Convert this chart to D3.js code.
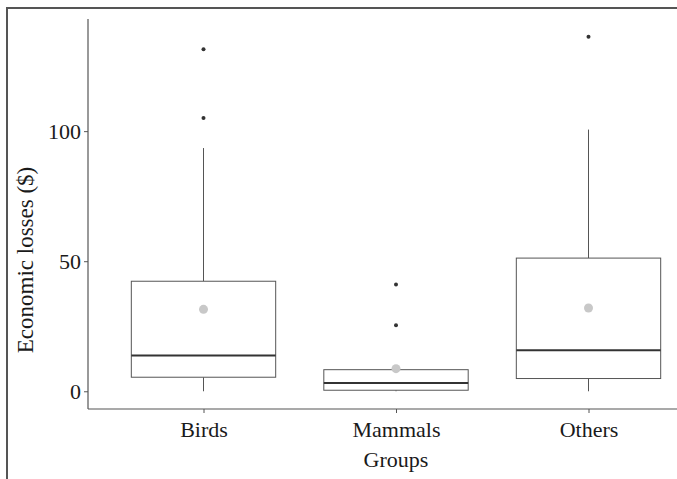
<!DOCTYPE html>
<html>
<head>
<meta charset="utf-8">
<script src="https://cdn.jsdelivr.net/npm/d3@7"></script>
<style>
  html, body { margin: 0; padding: 0; background: #fff; }
  svg { display: block; }
  text { font-family: "Liberation Serif", "Times New Roman", serif; }
</style>
</head>
<body>
<svg id="chart" width="677" height="479"></svg>
<script>
// Economic losses by animal group: box summaries, outliers and means
const groups = ["Birds", "Mammals", "Others"];
const lowerWhisker = [0, 0, 0];
const q1 = [5.4, 0.4, 4.9];
const median = [13.8, 3.2, 15.8];
const q3 = [42.3, 8.3, 51.2];
const upperWhisker = [93.5, 8.3, 100.6];
const means = [31.5, 8.7, 32.0];
const outliers = [[105.1, 131.5], [25.4, 41.0], [136.3]];
const yTicks = [0, 50, 100];

const svg = d3.select("#chart");

// outer frame (extends beyond the visible window on right and bottom)
svg.append("rect")
  .attr("x", 7).attr("y", 8)
  .attr("width", 800).attr("height", 600)
  .attr("fill", "none")
  .attr("stroke", "#555")
  .attr("stroke-width", 2);

const panel = { left: 88, right: 704, top: 19, bottom: 409 };

const dataMax = d3.max(outliers.flat().concat(upperWhisker));
const dataMin = d3.min(lowerWhisker);
const pad = (dataMax - dataMin) * 0.05;

const y = d3.scaleLinear()
  .domain([dataMin - pad, dataMax + pad])
  .range([panel.bottom, panel.top]);

// discrete positions with 0.6 of a step on each side
const x = d3.scalePoint()
  .domain(groups)
  .range([panel.left, panel.right])
  .padding(0.6);

const bw = x.step() * 0.75;

// axes
const yAxis = d3.axisLeft(y).tickValues(yTicks).tickSize(4).tickPadding(3);
const xAxis = d3.axisBottom(x).tickSize(4).tickPadding(3);

const gy = svg.append("g")
  .attr("transform", `translate(${panel.left},0)`)
  .call(yAxis);
gy.select(".domain").attr("d", `M0,${panel.top}V${panel.bottom}`);

const gx = svg.append("g")
  .attr("transform", `translate(0,${panel.bottom})`)
  .call(xAxis);
gx.select(".domain").attr("d", `M${panel.left},0H${panel.right}`);

[gx, gy].forEach(g => {
  g.selectAll(".domain").attr("stroke", "#555").attr("stroke-width", 1.2);
  g.selectAll(".tick line").attr("stroke", "#555").attr("stroke-width", 1);
  g.selectAll(".tick text")
    .attr("fill", "#1a1a1a")
    .style("font-size", "22px")
    .style("font-family", "'Liberation Serif', serif");
});
gx.selectAll(".tick text").attr("dy", "0.95em");

// axis titles
svg.append("text")
  .attr("x", (panel.left + panel.right) / 2)
  .attr("y", 467)
  .attr("text-anchor", "middle")
  .attr("fill", "#1a1a1a")
  .style("font-size", "22px")
  .text("Groups");

svg.append("text")
  .attr("transform", `translate(33,${(panel.top + panel.bottom) / 2 + 46}) rotate(-90)`)
  .attr("text-anchor", "middle")
  .attr("fill", "#1a1a1a")
  .style("font-size", "23px")
  .text("Economic losses ($)");

// boxes
const boxes = svg.append("g");
groups.forEach((g, i) => {
  const c = x(g);
  const gb = boxes.append("g");
  // whiskers
  gb.append("line")
    .attr("x1", c).attr("x2", c)
    .attr("y1", y(q3[i])).attr("y2", y(upperWhisker[i]))
    .attr("stroke", "#555").attr("stroke-width", 1);
  gb.append("line")
    .attr("x1", c).attr("x2", c)
    .attr("y1", y(q1[i])).attr("y2", y(lowerWhisker[i]))
    .attr("stroke", "#555").attr("stroke-width", 1);
  // box
  gb.append("rect")
    .attr("x", c - bw / 2)
    .attr("y", y(q3[i]))
    .attr("width", bw)
    .attr("height", y(q1[i]) - y(q3[i]))
    .attr("fill", "#fff")
    .attr("stroke", "#555")
    .attr("stroke-width", 1);
  // median
  gb.append("line")
    .attr("x1", c - bw / 2).attr("x2", c + bw / 2)
    .attr("y1", y(median[i])).attr("y2", y(median[i]))
    .attr("stroke", "#333").attr("stroke-width", 2);
  // outliers
  gb.selectAll("circle.out")
    .data(outliers[i])
    .join("circle")
    .attr("class", "out")
    .attr("cx", c)
    .attr("cy", d => y(d))
    .attr("r", 2)
    .attr("fill", "#333");
  // mean
  gb.append("circle")
    .attr("cx", c)
    .attr("cy", y(means[i]))
    .attr("r", 4.5)
    .attr("fill", "#c8c8c8");
});
</script>
</body>
</html>
